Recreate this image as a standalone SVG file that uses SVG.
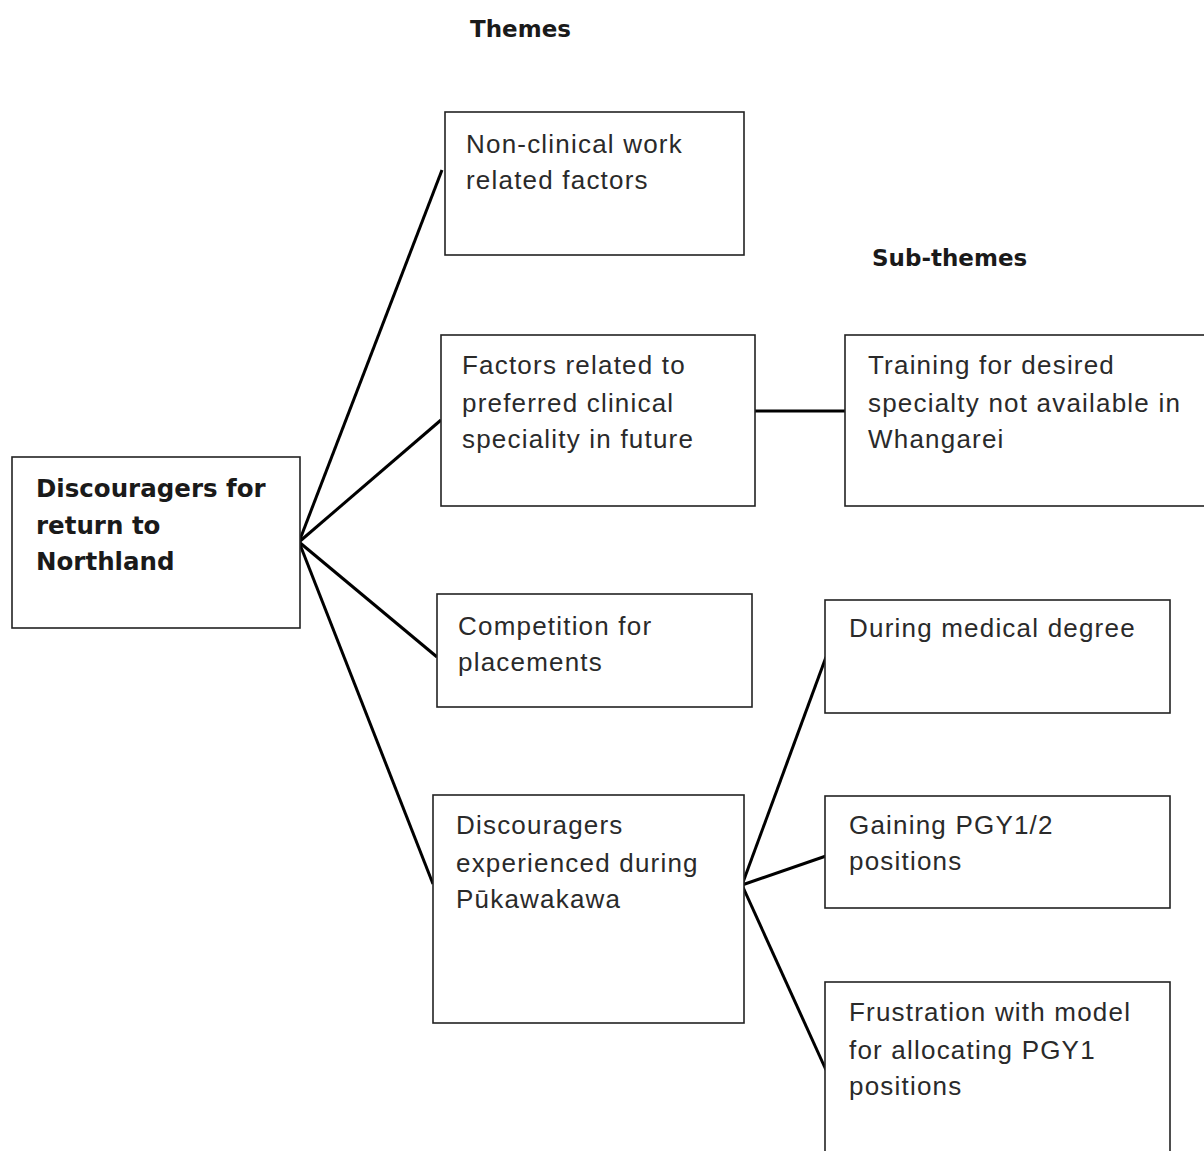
<svg xmlns="http://www.w3.org/2000/svg" width="1204" height="1151" viewBox="0 0 1204 1151">
<style>
.box{fill:#fff;stroke:#222;stroke-width:1.6}
.t{font-family:"Liberation Sans",Arial,sans-serif;font-size:26px;fill:#2a2a2a;letter-spacing:1.2px}
.b{font-family:"DejaVu Sans",Verdana,sans-serif;font-weight:bold;font-size:24.5px;fill:#1a1a1a}
.h{font-family:"DejaVu Sans",Verdana,sans-serif;font-weight:bold;font-size:23px;fill:#1a1a1a}
.c{stroke:#000;stroke-width:3;fill:none}
</style>
<rect width="1204" height="1151" fill="#fff"/>
<text class="h" x="470" y="37">Themes</text>
<text class="h" x="872" y="266">Sub-themes</text>
<g id="connectors">
<line class="c" x1="299" y1="542" x2="442" y2="170"/>
<line class="c" x1="299" y1="542" x2="441" y2="420"/>
<line class="c" x1="299" y1="542" x2="437" y2="657"/>
<line class="c" x1="299" y1="542" x2="433" y2="884"/>
<line class="c" x1="755" y1="411" x2="845" y2="411" stroke-width="3.4"/>
<line class="c" x1="742" y1="885" x2="826" y2="657"/>
<line class="c" x1="742" y1="885" x2="826" y2="856"/>
<line class="c" x1="742" y1="885" x2="826" y2="1070"/>
</g>
<g id="root">
<rect class="box" x="12" y="457" width="288" height="171"/>
<text class="b" x="36" y="497">Discouragers for</text>
<text class="b" x="36" y="534">return to</text>
<text class="b" x="36" y="570">Northland</text>
</g>
<g id="nonclinical">
<rect class="box" x="445" y="112" width="299" height="143"/>
<text class="t" x="466" y="153">Non-clinical work</text>
<text class="t" x="466" y="189">related factors</text>
</g>
<g id="factors">
<rect class="box" x="441" y="335" width="314" height="171"/>
<text class="t" x="462" y="374">Factors related to</text>
<text class="t" x="462" y="412">preferred clinical</text>
<text class="t" x="462" y="448">speciality in future</text>
</g>
<g id="training">
<rect class="box" x="845" y="335" width="362" height="171"/>
<text class="t" x="868" y="374">Training for desired</text>
<text class="t" x="868" y="412">specialty not available in</text>
<text class="t" x="868" y="448">Whangarei</text>
</g>
<g id="competition">
<rect class="box" x="437" y="594" width="315" height="113"/>
<text class="t" x="458" y="635">Competition for</text>
<text class="t" x="458" y="671">placements</text>
</g>
<g id="experienced">
<rect class="box" x="433" y="795" width="311" height="228"/>
<text class="t" x="456" y="834">Discouragers</text>
<text class="t" x="456" y="872">experienced during</text>
<text class="t" x="456" y="908">Pūkawakawa</text>
</g>
<g id="during">
<rect class="box" x="825" y="600" width="345" height="113"/>
<text class="t" x="849" y="637">During medical degree</text>
</g>
<g id="gaining">
<rect class="box" x="825" y="796" width="345" height="112"/>
<text class="t" x="849" y="834">Gaining PGY1/2</text>
<text class="t" x="849" y="870">positions</text>
</g>
<g id="frustration">
<rect class="box" x="825" y="982" width="345" height="175"/>
<text class="t" x="849" y="1021">Frustration with model</text>
<text class="t" x="849" y="1059">for allocating PGY1</text>
<text class="t" x="849" y="1095">positions</text>
</g>
</svg>
